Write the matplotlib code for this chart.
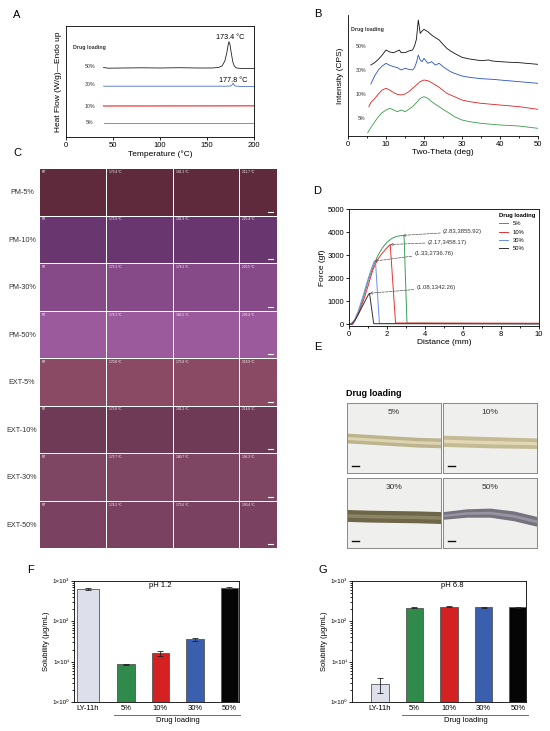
import numpy as np
import matplotlib
matplotlib.use("Agg")
import matplotlib.pyplot as plt
from matplotlib.patches import Rectangle
from matplotlib.ticker import MultipleLocator, LogLocator, NullFormatter

plt.rcParams['font.family'] = ['Liberation Sans', 'DejaVu Sans']
plt.rcParams['axes.linewidth'] = 0.6
plt.rcParams['xtick.major.width'] = 0.6
plt.rcParams['ytick.major.width'] = 0.6
plt.rcParams['xtick.major.size'] = 2
plt.rcParams['ytick.major.size'] = 2
plt.rcParams['xtick.minor.size'] = 1.2
plt.rcParams['ytick.minor.size'] = 1.2
plt.rcParams['xtick.labelsize'] = 5.5
plt.rcParams['ytick.labelsize'] = 5.5
plt.rcParams['axes.labelsize'] = 6

W, H = 550, 731
LOADINGS = ["5%", "10%", "30%", "50%"]

# ---- A: DSC (arbitrary offset units) ----
DSC_50_T = [40, 45, 60, 80, 100, 120, 140, 155, 162, 166, 169, 171, 172.5, 173.4, 174.5, 176, 177.5, 179, 181, 185, 200]
DSC_50_Y = [69.5, 68.8, 69, 69.2, 69, 69.3, 69, 69, 69.5, 71, 76, 84, 92, 95.3, 92, 83, 75, 71, 69.2, 68.6, 68.5]
DSC_30_T = [40, 100, 170, 175, 176.5, 177.8, 178.8, 180, 185, 200]
DSC_30_Y = [50.8, 50.8, 50.8, 51, 52, 53.8, 52, 51, 50.6, 50.6]
DSC_10_T = [40, 200]
DSC_10_Y = [31, 31.2]
DSC_5_T = [40, 200]
DSC_5_Y = [13.7, 13.7]

# ---- B: XRD (arbitrary offset units) ----
XRD_50_X = [6, 7, 8, 9, 10, 11, 12, 13, 13.5, 14, 15, 16, 17, 17.5, 18, 18.5, 19, 19.5, 20, 21, 22, 23, 24, 25, 26, 27, 28, 30, 32, 35, 37, 38, 40, 43, 45, 48, 50]
XRD_50_Y = [213, 220, 230, 243, 258, 252, 250, 255, 258, 250, 250, 255, 258, 270, 290, 348, 308, 315, 320, 313, 303, 295, 288, 275, 263, 255, 248, 236, 231, 226, 228, 225, 223, 221, 220, 217, 215]
XRD_30_X = [6, 7, 8, 9, 10, 10.5, 11, 12, 13, 14, 15, 16, 17, 17.5, 18, 18.5, 19, 19.5, 20, 21, 22, 23, 24, 25, 26, 27, 28, 30, 32, 35, 38, 40, 45, 50]
XRD_30_Y = [156, 180, 198, 210, 218, 215, 212, 208, 205, 198, 203, 200, 198, 205, 220, 243, 228, 223, 233, 218, 223, 213, 218, 208, 200, 193, 188, 180, 176, 172, 170, 168, 163, 158]
XRD_10_X = [5.5, 6, 7, 8, 9, 10, 11, 12, 13, 14, 15, 16, 17, 18, 19, 20, 21, 22, 23, 24, 25, 26, 27, 28, 30, 32, 35, 40, 45, 50]
XRD_10_Y = [88, 100, 112, 126, 138, 143, 138, 130, 125, 123, 126, 133, 143, 153, 163, 168, 166, 160, 153, 146, 137, 128, 123, 118, 108, 103, 98, 93, 88, 80]
XRD_5_X = [5.2, 6, 7, 8, 9, 10, 11, 12, 13, 14, 15, 16, 17, 18, 19, 20, 21, 22, 23, 24, 25, 26, 27, 28, 30, 32, 35, 40, 45, 50]
XRD_5_Y = [10, 25, 42, 58, 70, 78, 83, 78, 73, 78, 73, 80, 88, 100, 113, 118, 113, 103, 95, 88, 80, 73, 66, 58, 48, 43, 38, 33, 30, 23]

# ---- C: hot-stage microscopy grid ----
ROW_LABELS = ["PM-5%", "PM-10%", "PM-30%", "PM-50%", "EXT-5%", "EXT-10%", "EXT-30%", "EXT-50%"]
ROW_COLORS = ["#5e2a3c", "#6a3670", "#874a88", "#9a5a9c", "#8a4a64", "#6e3a56", "#7e4662", "#7a4260"]
TEMPS = [["RT", "173.4 °C", "181.2 °C", "211.7 °C"],
         ["RT", "173.9 °C", "181.9 °C", "225.4 °C"],
         ["RT", "173.1 °C", "178.2 °C", "200.5 °C"],
         ["RT", "178.1 °C", "185.5 °C", "203.4 °C"],
         ["RT", "170.8 °C", "175.8 °C", "218.9 °C"],
         ["RT", "173.8 °C", "181.2 °C", "214.6 °C"],
         ["RT", "173.7 °C", "180.7 °C", "196.3 °C"],
         ["RT", "174.2 °C", "175.6 °C", "190.4 °C"]]

# ---- D: force-distance ----
F5_X = [0, 0.1, 0.3, 0.5, 0.75, 1.0, 1.25, 1.5, 1.75, 2.0, 2.25, 2.5, 2.83, 2.9, 3.05, 10]
F5_Y = [0, 0, 150, 500, 1150, 1850, 2450, 2950, 3300, 3560, 3720, 3810, 3855.92, 3800, 40, 20]
F10_X = [0, 0.2, 0.5, 0.75, 1.0, 1.25, 1.5, 1.75, 2.0, 2.17, 2.45, 10]
F10_Y = [0, 0, 450, 1000, 1650, 2350, 2800, 3080, 3320, 3458.17, 50, 40]
F30_X = [0, 0.1, 0.3, 0.5, 0.75, 1.0, 1.2, 1.33, 1.4, 1.6, 10]
F30_Y = [0, 0, 200, 600, 1250, 1950, 2450, 2736.76, 2650, 30, 20]
F50_X = [0, 0.15, 0.3, 0.5, 0.75, 1.0, 1.08, 1.3, 10]
F50_Y = [0, 0, 150, 450, 850, 1250, 1342.26, 20, 10]
PEAK_X = [2.83, 2.17, 1.33, 1.08]
PEAK_Y = [3855.92, 3458.17, 2736.76, 1342.26]
PEAK_TXT_X = [4.95, 4.15, 3.45, 3.55]
PEAK_TXT_Y = [4017, 3560, 3077, 1580]

# ---- F/G: solubility ----
SOL_CATS = ["LY-11h", "5%", "10%", "30%", "50%"]
SOL_PH12 = [630, 8.6, 16, 36, 660]
SOL_PH12_ERR = [25, 0.3, 2.5, 3, 30]
SOL_PH68 = [2.75, 217, 230, 221, 221]
SOL_PH68_ERR = [1.1, 8, 6, 8, 10]
BAR_COLORS = ["#dde0ea", "#2f8a4c", "#d42222", "#3a5fae", "#050505"]


def px_rect(l, t, r, b):
    return [l / W, 1 - b / H, (r - l) / W, (b - t) / H]


def letter(x, y, s):
    fig.text(x / W, 1 - y / H, s, fontsize=8, ha="center", va="center")


fig = plt.figure(figsize=(W / 100, H / 100), dpi=100)

# overlay for photo-like panel C
ov = fig.add_axes([0, 0, 1, 1])
ov.set_xlim(0, W)
ov.set_ylim(H, 0)
ov.axis("off")
cols = [(40, 106), (107, 173), (174, 239), (240, 277)]
row_top, row_h = 169, 47.5
for i, (lab, colr) in enumerate(zip(ROW_LABELS, ROW_COLORS)):
    t = row_top + i * row_h
    ov.text(22, t + row_h / 2, lab, fontsize=5.2, color="#333", ha="center", va="center")
    for j, (l, r) in enumerate(cols):
        ov.add_patch(Rectangle((l, t), r - l, row_h - 1, facecolor=colr, edgecolor="none"))
        ov.text(l + 2, t + 3, TEMPS[i][j], fontsize=2.3, color="white", ha="left", va="center")
    ov.plot([cols[-1][1] - 9, cols[-1][1] - 4], [t + row_h - 5] * 2, color="white", lw=0.8)

letter(17, 15, "A")
letter(318, 14, "B")
letter(17, 153, "C")
letter(317, 191, "D")
letter(318, 347, "E")
letter(31, 570, "F")
letter(323, 570, "G")

# ---- A ----
axA = fig.add_axes(px_rect(66, 26, 254, 137))
axA.plot(DSC_50_T, DSC_50_Y, color="#222222", lw=0.6)
axA.plot(DSC_30_T, DSC_30_Y, color="#4a6fd0", lw=0.6)
axA.plot(DSC_10_T, DSC_10_Y, color="#ee5050", lw=1.0)
axA.plot(DSC_5_T, DSC_5_Y, color="#4aa060", lw=0.6)
axA.set_xlim(0, 200)
axA.set_ylim(0, 111)
axA.set_yticks([])
axA.set_xticks([0, 50, 100, 150, 200])
axA.set_xlabel("Temperature (°C)", labelpad=1)
axA.set_ylabel("Heat Flow (W/g)—Endo up", labelpad=3)
axA.text(7.4, 89, "Drug loading", fontsize=3.8, fontweight="bold", color="#333", va="center")
for lab, yy in zip(LOADINGS[::-1], [70.3, 52, 31, 14]):
    axA.text(25.5, yy, lab, fontsize=3.8, color="#333", ha="center", va="center")
axA.text(174.5, 99.7, "173.4 °C", fontsize=5.2, ha="center", va="center")
axA.text(178, 57, "177.8 °C", fontsize=5.2, ha="center", va="center")
axA.tick_params(pad=1.5)

# ---- B ----
axB = fig.add_axes(px_rect(348, 15, 538, 136))
axB.plot(XRD_50_X, XRD_50_Y, color="#111111", lw=0.6)
axB.plot(XRD_30_X, XRD_30_Y, color="#2850c8", lw=0.6)
axB.plot(XRD_10_X, XRD_10_Y, color="#e02020", lw=0.6)
axB.plot(XRD_5_X, XRD_5_Y, color="#3a9a4a", lw=0.6)
axB.set_xlim(0, 50)
axB.set_ylim(0, 363)
axB.set_yticks([])
axB.set_xticks([0, 10, 20, 30, 40, 50])
axB.xaxis.set_minor_locator(MultipleLocator(5))
axB.spines[["top", "right"]].set_visible(False)
axB.set_xlabel("Two-Theta (deg)", labelpad=1)
axB.set_ylabel("Intensity (CPS)", labelpad=3)
axB.text(0.9, 318, "Drug loading", fontsize=3.8, fontweight="bold", color="#333", va="center")
for lab, yy in zip(LOADINGS[::-1], [268, 195, 123, 51]):
    axB.text(3.5, yy, lab, fontsize=3.8, color="#333", ha="center", va="center")
axB.tick_params(pad=1.5)

# ---- D ----
axD = fig.add_axes(px_rect(349, 209, 539, 326))
axD.plot(F5_X, F5_Y, color="#3aa05a", lw=0.7, label="5%")
axD.plot(F10_X, F10_Y, color="#e83030", lw=0.7, label="10%")
axD.plot(F30_X, F30_Y, color="#6a8ee8", lw=0.7, label="30%")
axD.plot(F50_X, F50_Y, color="#333333", lw=0.7, label="50%")
for px_, py_, tx, ty in zip(PEAK_X, PEAK_Y, PEAK_TXT_X, PEAK_TXT_Y):
    axD.annotate(f"({px_:g},{py_:.2f})", xy=(px_, py_), xytext=(tx, ty), fontsize=4.3,
                 ha="left", va="center", color="#333",
                 arrowprops=dict(arrowstyle="->", linestyle="--", lw=0.5, color="#555",
                                 shrinkA=0, shrinkB=0, mutation_scale=4))
axD.set_xlim(0, 10)
axD.set_ylim(-80, 5000)
axD.set_xticks([0, 2, 4, 6, 8, 10])
axD.set_yticks([0, 1000, 2000, 3000, 4000, 5000])
axD.xaxis.set_minor_locator(MultipleLocator(1))
axD.set_xlabel("Distance (mm)", labelpad=1)
axD.set_ylabel("Force (gf)", labelpad=1)
axD.tick_params(pad=1.5)
leg = axD.legend(title="Drug loading", frameon=False, fontsize=4.2, title_fontsize=4.2,
                 loc="upper right", handlelength=1.6, labelspacing=0.55,
                 borderaxespad=0.3, alignment="left")
leg.get_title().set_fontweight("bold")

# ---- E ----
fig.text(346 / W, 1 - 394 / H, "Drug loading", fontsize=6.5, fontweight="bold", va="center")
E_BOXES = [(347, 403, 441, 473), (443, 403, 537, 473), (347, 478, 441, 548), (443, 478, 537, 548)]
E_BAND_X = [0, 0.25, 0.5, 0.75, 1]
E_BAND_LO = [[0.43, 0.41, 0.39, 0.37, 0.36], [0.38, 0.37, 0.36, 0.355, 0.35],
             [0.38, 0.37, 0.365, 0.36, 0.35], [0.41, 0.44, 0.44, 0.39, 0.31]]
E_BAND_HI = [[0.57, 0.55, 0.53, 0.51, 0.50], [0.54, 0.53, 0.52, 0.51, 0.50],
             [0.55, 0.54, 0.535, 0.53, 0.52], [0.52, 0.56, 0.57, 0.53, 0.45]]
E_BAND_C = ["#bdb48e", "#c4ba94", "#6e6648", "#76727e"]
E_BAND_MID = ["#dcd4b2", "#e2d8b4", "#8c8464", "#9894a2"]
for k, (l, t, r, b) in enumerate(E_BOXES):
    ax = fig.add_axes(px_rect(l, t, r, b))
    ax.set_facecolor("#efefed")
    ax.set_xlim(0, 1)
    ax.set_ylim(0, 1)
    ax.set_xticks([])
    ax.set_yticks([])
    for s in ax.spines.values():
        s.set_color("#888888")
        s.set_linewidth(0.7)
    lo = np.array(E_BAND_LO[k])
    hi = np.array(E_BAND_HI[k])
    ax.fill_between(E_BAND_X, lo, hi, color=E_BAND_C[k], lw=0)
    ax.fill_between(E_BAND_X, lo + (hi - lo) * 0.35, hi - (hi - lo) * 0.35, color=E_BAND_MID[k], lw=0)
    ax.text(0.5, 0.86, LOADINGS[k], fontsize=6, ha="center", va="center", color="#333")
    ax.plot([0.05, 0.13], [0.1, 0.1], color="#111", lw=1.0)


# ---- F / G ----
def sol_panel(rect, pos, vals, errs, xlim, ph, ph_x, widths):
    ax = fig.add_axes(rect)
    ax.bar(pos, vals, width=widths, color=BAR_COLORS, edgecolor="#555555", linewidth=0.6,
           yerr=errs, error_kw=dict(elinewidth=0.6, capsize=2, capthick=0.6, ecolor="#222"))
    ax.set_yscale("log")
    ax.set_ylim(1, 1000)
    ax.set_xlim(*xlim)
    ax.set_yticks([1, 10, 100, 1000])
    ax.set_yticklabels(["1×10⁰", "1×10¹", "1×10²", "1×10³"], fontsize=4.5)
    ax.yaxis.set_minor_locator(LogLocator(base=10, subs=np.arange(2, 10), numticks=10))
    ax.yaxis.set_minor_formatter(NullFormatter())
    ax.set_xticks(pos)
    ax.set_xticklabels(SOL_CATS, fontsize=5.5)
    ax.tick_params(axis="x", length=0, pad=2)
    ax.tick_params(axis="y", pad=1.5)
    ax.set_ylabel("Solubility (μg/mL)", fontsize=5.5, labelpad=2)
    ax.text(ph_x, 780, ph, fontsize=5.5, ha="center", va="center")
    tr = ax.get_xaxis_transform()
    ax.plot([pos[1] - 0.35, pos[-1] + 0.3], [-0.105, -0.105], color="#555", lw=0.6,
            transform=tr, clip_on=False)
    ax.text((pos[1] + pos[-1]) / 2, -0.15, "Drug loading", fontsize=5.5, ha="center",
            va="center", transform=tr)
    return ax


sol_panel(px_rect(74, 581, 239, 702), [0, 1.1, 2.1, 3.1, 4.1], SOL_PH12, SOL_PH12_ERR,
          (-0.41, 4.38), "pH 1.2", 2.1, [0.66, 0.5, 0.5, 0.5, 0.5])
sol_panel(px_rect(352, 581, 526, 702), [0, 1, 2, 3, 4], SOL_PH68, SOL_PH68_ERR,
          (-0.81, 4.23), "pH 6.8", 2.1, 0.5)

fig.savefig("out.png", dpi=100)
